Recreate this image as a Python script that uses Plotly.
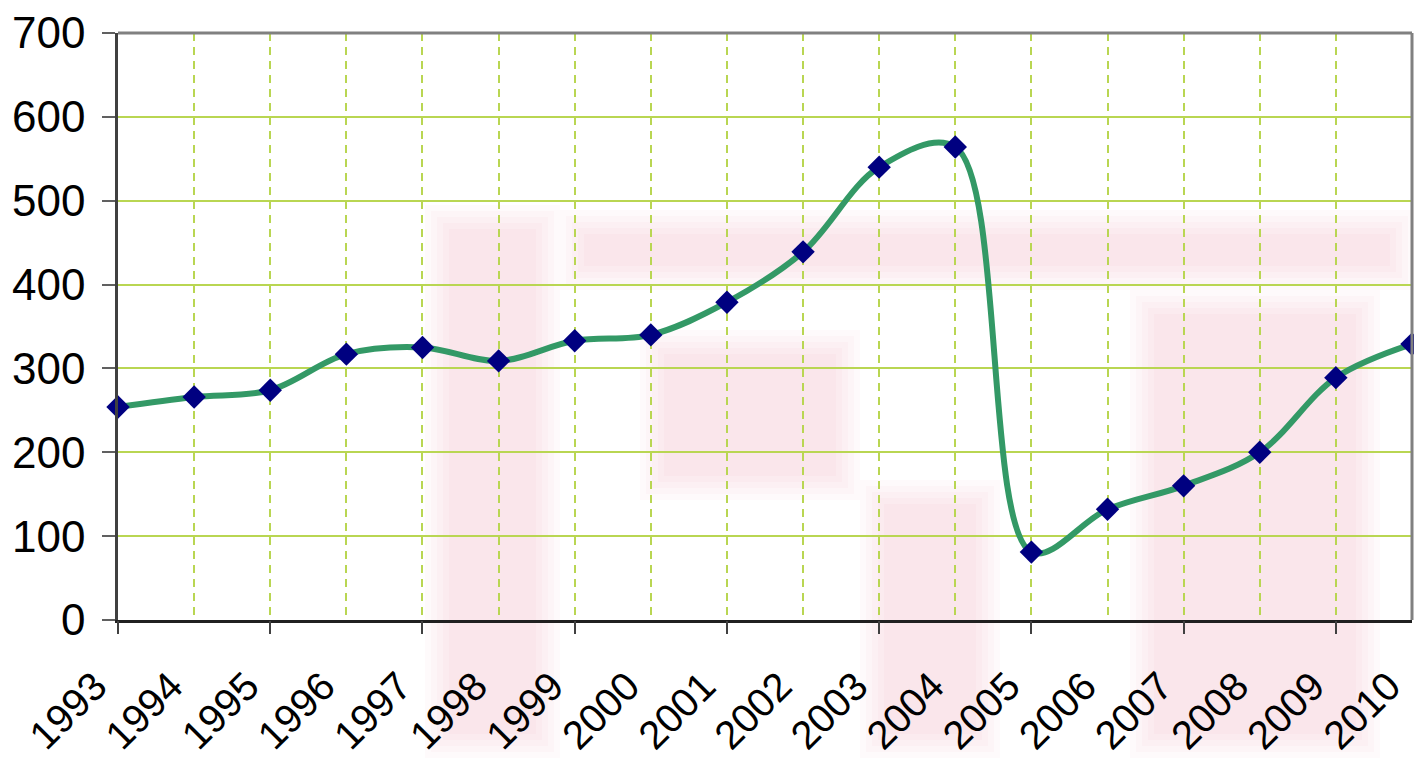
import plotly.graph_objects as go

years = [1993, 1994, 1995, 1996, 1997, 1998, 1999, 2000, 2001, 2002,
         2003, 2004, 2005, 2006, 2007, 2008, 2009, 2010]
values = [254, 266, 274, 317, 325, 309, 333, 340, 379, 439,
          540, 564, 81, 132, 160, 200, 289, 329]
y_ticks = [0, 100, 200, 300, 400, 500, 600, 700]
x_labels = [str(y) for y in years]

LINE_GREEN = "#339966"
NAVY = "#000080"
GRID = "#b9d652"

fig = go.Figure()

# faint watermark-like pink areas (background decoration)
pink_zones = [
    (425, 560, 205, 758),
    (560, 1414, 210, 290),
    (1130, 1380, 290, 758),
    (860, 1000, 480, 758),
    (640, 860, 330, 500),
]
for (x0, x1, y0, y1) in pink_zones:
    for k in range(5):
        pad = 24 - 6 * k
        fig.add_shape(type="rect", xref="paper", yref="paper",
                      x0=(x0 - 118 + pad) / 1294, x1=(x1 - 118 - pad) / 1294,
                      y0=(620 - y1 + pad) / 587, y1=(620 - y0 - pad) / 587,
                      fillcolor="rgb(232,120,140)", opacity=0.035,
                      line=dict(width=0), layer="below")

fig.add_trace(go.Scatter(
    x=years, y=values, mode="lines+markers",
    line=dict(color=LINE_GREEN, width=6, shape="spline", smoothing=1.0),
    marker=dict(symbol="diamond", size=18, color=NAVY),
    cliponaxis=False, showlegend=False, hoverinfo="x+y",
))

# invisible trace to carry the secondary axis that draws ticks every 2 years
fig.add_trace(go.Scatter(x=[years[0], years[-1]], y=[0, 0], xaxis="x2",
                         mode="markers", marker=dict(opacity=0),
                         showlegend=False, hoverinfo="skip"))

xr = [years[0] - 0.0005, years[-1] + 0.0005]

fig.update_layout(
    width=1414, height=758,
    margin=dict(l=118, r=2, t=33, b=138, autoexpand=False),
    paper_bgcolor="white", plot_bgcolor="rgba(0,0,0,0)",
    font=dict(family="Liberation Sans, Arial, sans-serif", color="black"),
    xaxis=dict(
        range=xr, autorange=False, automargin=False,
        tickmode="array", tickvals=years, ticktext=x_labels,
        tickangle=-45, tickfont=dict(size=40),
        ticklabelshift=-23, ticklabelstandoff=24,
        ticks="", showgrid=True, gridcolor=GRID, gridwidth=1.5,
        griddash="8px,6px", ticklabeloverflow="allow",
        showline=True, linecolor="#202020", linewidth=2.5,
        mirror=False, zeroline=False, fixedrange=True,
    ),
    xaxis2=dict(
        range=xr, autorange=False, overlaying="x", anchor="y", side="bottom",
        tickmode="linear", tick0=1993, dtick=2, automargin=False,
        ticks="outside", ticklen=13, tickwidth=1.5, tickcolor="#404040",
        showticklabels=False, showgrid=False, showline=False, zeroline=False,
    ),
    yaxis=dict(
        range=[0, 700], autorange=False, automargin=False,
        tickmode="array", tickvals=y_ticks,
        ticktext=[str(v) for v in y_ticks],
        tickfont=dict(size=44), ticks="outside", ticklen=13, tickwidth=1.5,
        tickcolor="#606060", ticklabelstandoff=8,
        showgrid=True, gridcolor=GRID, gridwidth=1.8,
        showline=True, linecolor="#404040", linewidth=2.5,
        zeroline=False, fixedrange=True,
    ),
)

# gray top and right frame of the plot area
fig.add_shape(type="line", xref="paper", yref="paper", x0=0, x1=1, y0=1, y1=1,
              line=dict(color="#808080", width=3))
fig.add_shape(type="line", xref="paper", yref="paper", x0=1, x1=1, y0=0, y1=1,
              line=dict(color="#808080", width=3))

fig.write_html(
    "out.html",
    config={"displayModeBar": False},
    post_script="document.body.style.margin='0';document.body.style.overflow='hidden';",
)
